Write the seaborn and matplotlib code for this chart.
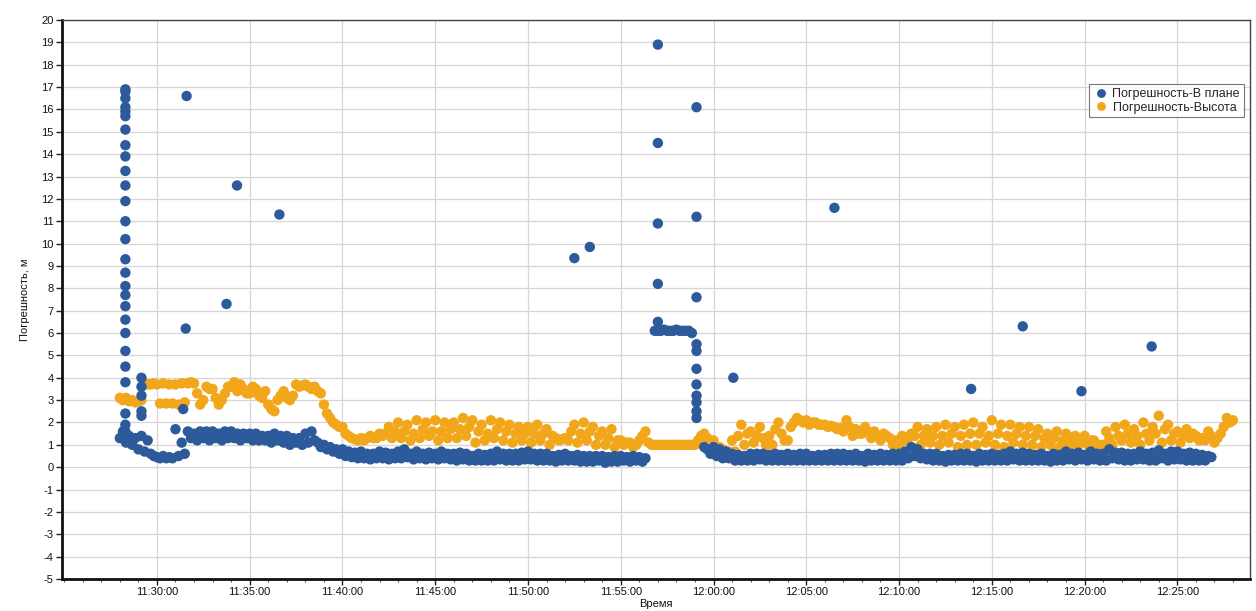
import numpy as np
import pandas as pd
import matplotlib
matplotlib.use("Agg")
import matplotlib.pyplot as plt
import matplotlib.dates as mdates
import seaborn as sns

sns.set_theme(style="white")
plt.rcParams['font.family'] = ['Liberation Sans', 'DejaVu Sans']
plt.rcParams['axes.unicode_minus'] = False

DAY = "2020-01-01 "
SERIES_PLAN = "Погрешность-В плане"
SERIES_H = "Погрешность-Высота"

# ---- Horizontal error band (10 s sampling), three pieces ----
blue_a_start = "11:28:00"
blue_a = [
    1.3, 1.6, 1.1, 1.4, 1.0, 1.3,      # 11:28
    0.8, 1.4, 0.7, 1.2, 0.6, 0.5,      # 11:29
    0.45, 0.4, 0.5, 0.4, 0.45, 0.4,    # 11:30
    1.7, 0.5, 1.1, 0.6, 1.6, 1.3,      # 11:31
    1.5, 1.2, 1.6, 1.3, 1.6, 1.2,      # 11:32
    1.6, 1.3, 1.5, 1.2, 1.6, 1.3,      # 11:33
    1.6, 1.3, 1.5, 1.2, 1.5, 1.3,      # 11:34
    1.5, 1.2, 1.5, 1.2, 1.4, 1.2,      # 11:35
    1.4, 1.1, 1.5, 1.2, 1.4, 1.1,      # 11:36
    1.4, 1.0, 1.3, 1.1, 1.3, 1.0,      # 11:37
    1.5, 1.1, 1.6, 1.2, 1.1, 0.9,      # 11:38
    1.0, 0.8, 0.9, 0.7, 0.8, 0.6,      # 11:39
    0.8, 0.5, 0.7, 0.45, 0.65, 0.4,    # 11:40
    0.7, 0.4, 0.6, 0.35, 0.6, 0.4,     # 11:41
    0.7, 0.4, 0.65, 0.35, 0.6, 0.4,    # 11:42
    0.7, 0.4, 0.8, 0.45, 0.6, 0.35,    # 11:43
    0.7, 0.4, 0.6, 0.35, 0.65, 0.4,    # 11:44
    0.6, 0.35, 0.7, 0.4, 0.6, 0.35,    # 11:45
    0.6, 0.3, 0.65, 0.35, 0.6, 0.3,    # 11:46
    0.5, 0.3, 0.6, 0.3, 0.55, 0.3,     # 11:47
    0.6, 0.3, 0.7, 0.35, 0.6, 0.3,     # 11:48
    0.6, 0.3, 0.6, 0.3, 0.65, 0.35,    # 11:49
    0.7, 0.35, 0.6, 0.3, 0.6, 0.3,     # 11:50
    0.6, 0.3, 0.5, 0.25, 0.55, 0.3,    # 11:51
    0.6, 0.3, 0.5, 0.3, 0.55, 0.25,    # 11:52
    0.5, 0.25, 0.5, 0.25, 0.5, 0.3,    # 11:53
    0.5, 0.2, 0.45, 0.25, 0.5, 0.25,   # 11:54
    0.5, 0.3, 0.45, 0.25, 0.5, 0.3,    # 11:55
    0.45, 0.25, 0.4,                   # 11:56
]
blue_b_start = "11:56:50"
blue_b = [6.1, 6.1, 6.1, 6.15, 6.1, 6.1, 6.1, 6.15, 6.1, 6.1, 6.1, 6.1, 6.0]
blue_c_start = "11:59:30"
blue_c = [
    0.9, 0.8, 0.6,                     # 11:59
    0.9, 0.5, 0.8, 0.4, 0.7, 0.4,      # 12:00
    0.6, 0.3, 0.55, 0.3, 0.5, 0.3,     # 12:01
    0.6, 0.3, 0.6, 0.35, 0.6, 0.3,     # 12:02
    0.55, 0.3, 0.6, 0.3, 0.55, 0.3,    # 12:03
    0.6, 0.3, 0.55, 0.3, 0.6, 0.3,     # 12:04
    0.6, 0.3, 0.5, 0.3, 0.55, 0.3,     # 12:05
    0.55, 0.3, 0.6, 0.3, 0.6, 0.3,     # 12:06
    0.6, 0.3, 0.55, 0.3, 0.6, 0.3,     # 12:07
    0.5, 0.25, 0.6, 0.3, 0.55, 0.3,    # 12:08
    0.6, 0.3, 0.55, 0.3, 0.6, 0.3,     # 12:09
    0.6, 0.3, 0.7, 0.4, 0.9, 0.5,      # 12:10
    0.8, 0.4, 0.6, 0.35, 0.6, 0.3,     # 12:11
    0.6, 0.3, 0.5, 0.25, 0.55, 0.3,    # 12:12
    0.55, 0.3, 0.6, 0.3, 0.6, 0.3,     # 12:13
    0.5, 0.25, 0.6, 0.3, 0.55, 0.3,    # 12:14
    0.6, 0.3, 0.55, 0.3, 0.6, 0.3,     # 12:15
    0.7, 0.35, 0.6, 0.3, 0.65, 0.3,    # 12:16
    0.6, 0.3, 0.55, 0.3, 0.6, 0.3,     # 12:17
    0.5, 0.25, 0.6, 0.3, 0.55, 0.3,    # 12:18
    0.7, 0.35, 0.6, 0.3, 0.65, 0.35,   # 12:19
    0.55, 0.3, 0.7, 0.35, 0.6, 0.3,    # 12:20
    0.6, 0.3, 0.8, 0.4, 0.65, 0.35,    # 12:21
    0.65, 0.3, 0.6, 0.3, 0.6, 0.35,    # 12:22
    0.7, 0.35, 0.6, 0.3, 0.65, 0.3,    # 12:23
    0.75, 0.4, 0.6, 0.3, 0.7, 0.35,    # 12:24
    0.7, 0.35, 0.6, 0.3, 0.65, 0.3,    # 12:25
    0.6, 0.3, 0.55, 0.3, 0.5, 0.45,    # 12:26
]

# ---- Isolated horizontal-error points (time, value) ----
spike_times = (["11:28:18"] * 27 + ["11:29:10"] * 5 +
               ["11:31:25", "11:31:33", "11:31:36", "11:33:45", "11:34:19", "11:36:36",
                "11:52:30", "11:53:20"] +
               ["11:57:00"] * 5 + ["11:59:05"] * 11 +
               ["12:01:04", "12:06:31", "12:13:53", "12:16:40", "12:19:50", "12:23:37"])
spike_vals = ([16.9, 16.8, 16.5, 16.1, 15.9, 15.7, 15.1, 14.4, 13.9, 13.25, 12.6, 11.9,
               11.0, 10.2, 9.3, 8.7, 8.1, 7.7, 7.2, 6.6, 6.0, 5.2, 4.5, 3.8, 2.4, 1.9, 1.6] +
              [4.0, 3.6, 3.2, 2.5, 2.3] +
              [2.6, 6.2, 16.6, 7.3, 12.6, 11.3, 9.35, 9.85] +
              [18.9, 14.5, 10.9, 8.2, 6.5] +
              [16.1, 11.2, 7.6, 5.5, 5.2, 4.4, 3.7, 3.2, 2.9, 2.5, 2.2] +
              [4.0, 11.6, 3.5, 6.3, 3.4, 5.4])

# ---- Height error band (10 s sampling) ----
orange_start = "11:28:00"
orange = [
    3.1, 3.0, 3.1, 2.95, 3.0, 2.9,     # 11:28
    2.95, 3.0, 3.75, 3.7, 3.7, 3.75,   # 11:29
    3.7, 2.85, 3.75, 2.85, 3.7, 2.85,  # 11:30
    3.7, 2.8, 3.75, 2.9, 3.75, 3.8,    # 11:31
    3.75, 3.3, 2.8, 3.0, 3.6, 3.5,     # 11:32
    3.5, 3.1, 2.8, 3.0, 3.3, 3.6,      # 11:33
    3.6, 3.8, 3.4, 3.7, 3.5, 3.3,      # 11:34
    3.3, 3.6, 3.5, 3.2, 3.1, 3.4,      # 11:35
    2.8, 2.6, 2.5, 3.0, 3.2, 3.4,      # 11:36
    3.1, 3.0, 3.2, 3.7, 3.6, 3.65,     # 11:37
    3.7, 3.6, 3.5, 3.6, 3.4, 3.3,      # 11:38
    2.8, 2.4, 2.2, 2.0, 1.9, 1.8,      # 11:39
    1.8, 1.5, 1.4, 1.3, 1.25, 1.2,     # 11:40
    1.3, 1.2, 1.3, 1.4, 1.3, 1.3,      # 11:41
    1.5, 1.4, 1.5, 1.8, 1.3, 1.6,      # 11:42
    2.0, 1.3, 1.6, 1.9, 1.2, 1.5,      # 11:43
    2.1, 1.3, 1.7, 2.0, 1.4, 1.6,      # 11:44
    2.1, 1.2, 1.6, 2.0, 1.3, 1.7,      # 11:45
    2.0, 1.3, 1.7, 2.2, 1.4, 1.8,      # 11:46
    2.1, 1.1, 1.6, 1.9, 1.2, 1.5,      # 11:47
    2.1, 1.3, 1.7, 2.0, 1.2, 1.6,      # 11:48
    1.9, 1.1, 1.5, 1.8, 1.2, 1.5,      # 11:49
    1.8, 1.1, 1.5, 1.9, 1.2, 1.5,      # 11:50
    1.7, 1.0, 1.4, 1.3, 1.2, 1.25,     # 11:51
    1.3, 1.2, 1.6, 1.9, 1.1, 1.5,      # 11:52
    2.0, 1.2, 1.6, 1.8, 1.0, 1.4,      # 11:53
    1.6, 1.0, 1.3, 1.7, 0.9, 1.2,      # 11:54
    1.2, 1.0, 1.1, 1.1, 0.9, 1.0,      # 11:55
    1.2, 1.4, 1.6, 1.1, 1.0, 1.0,      # 11:56
    1.0, 1.0, 1.0, 1.0, 1.0, 1.0,      # 11:57
    1.0, 1.0, 1.0, 1.0, 1.0, 1.0,      # 11:58
    1.0, 1.2, 1.4, 1.5, 1.3, 0.8,      # 11:59
    1.2, 0.6, 0.9, 0.8, 0.5, 0.7,      # 12:00
    1.2, 0.7, 1.4, 1.9, 1.0, 1.5,      # 12:01
    1.6, 1.1, 1.4, 1.8, 1.3, 1.0,      # 12:02
    1.4, 1.0, 1.7, 2.0, 1.5, 1.2,      # 12:03
    1.2, 1.8, 2.0, 2.2, 2.1, 2.0,      # 12:04
    2.1, 1.9, 2.0, 2.0, 1.9, 1.9,      # 12:05
    1.9, 1.8, 1.85, 1.8, 1.7, 1.75,    # 12:06
    1.6, 2.1, 1.8, 1.4, 1.7, 1.5,      # 12:07
    1.5, 1.8, 1.6, 1.3, 1.6, 1.4,      # 12:08
    1.2, 1.5, 1.4, 1.3, 1.0, 1.2,      # 12:09
    1.0, 1.4, 1.2, 1.3, 1.5, 1.4,      # 12:10
    1.8, 1.0, 1.4, 1.7, 1.1, 1.4,      # 12:11
    1.8, 1.0, 1.4, 1.9, 1.1, 1.5,      # 12:12
    1.8, 0.9, 1.4, 1.9, 1.0, 1.5,      # 12:13
    2.0, 1.0, 1.5, 1.8, 1.1, 1.4,      # 12:14
    2.1, 1.0, 1.5, 1.9, 0.9, 1.4,      # 12:15
    1.9, 1.1, 1.5, 1.8, 1.0, 1.4,      # 12:16
    1.8, 1.0, 1.4, 1.7, 0.9, 1.3,      # 12:17
    1.5, 1.0, 1.3, 1.6, 0.9, 1.2,      # 12:18
    1.5, 0.9, 1.2, 1.4, 1.0, 1.2,      # 12:19
    1.4, 1.0, 1.2, 1.2, 0.9, 1.0,      # 12:20
    1.0, 1.6, 1.3, 1.0, 1.8, 1.4,      # 12:21
    1.2, 1.9, 1.5, 1.1, 1.7, 1.4,      # 12:22
    1.0, 2.0, 1.5, 1.2, 1.8, 1.5,      # 12:23
    2.3, 1.1, 1.7, 1.9, 1.2, 1.5,      # 12:24
    1.6, 1.1, 1.4, 1.7, 1.3, 1.5,      # 12:25
    1.4, 1.2, 1.3, 1.2, 1.6, 1.4,      # 12:26
    1.1, 1.3, 1.5, 1.8, 2.2, 2.0,      # 12:27
    2.1,                               # 12:28
]

y_ticks = list(range(-5, 21))
x_tick_labels = ["11:30:00", "11:35:00", "11:40:00", "11:45:00", "11:50:00", "11:55:00",
                 "12:00:00", "12:05:00", "12:10:00", "12:15:00", "12:20:00", "12:25:00"]


def sampled(start, vals, name):
    t = pd.date_range(DAY + start, periods=len(vals), freq="10s")
    return pd.DataFrame({"t": t, "v": vals, "s": name})


frames = [
    sampled(orange_start, orange, SERIES_H),
    sampled(blue_a_start, blue_a, SERIES_PLAN),
    sampled(blue_b_start, blue_b, SERIES_PLAN),
    sampled(blue_c_start, blue_c, SERIES_PLAN),
    pd.DataFrame({"t": pd.to_datetime([DAY + s for s in spike_times]),
                  "v": spike_vals, "s": SERIES_PLAN}),
]
df = pd.concat(frames, ignore_index=True)

BLUE = "#2d5a9b"
ORANGE = "#f2a71b"

W, H = 1256, 611
fig = plt.figure(figsize=(W / 100, H / 100), dpi=100)
L, R, T, B = 62, 1250, 20, 579
ax = fig.add_axes([L / W, (H - B) / H, (R - L) / W, (B - T) / H])

sns.scatterplot(data=df, x="t", y="v", hue="s", hue_order=[SERIES_PLAN, SERIES_H],
                palette=[BLUE, ORANGE], s=56, linewidth=0, ax=ax, legend=True,
                zorder=3)

ax.set_ylim(-5, 20)
ax.set_yticks(y_ticks)
ax.set_xlim(pd.Timestamp(DAY + "11:24:53"), pd.Timestamp(DAY + "12:28:55"))
ax.set_xticks(pd.to_datetime([DAY + s for s in x_tick_labels]))
ax.xaxis.set_major_formatter(mdates.DateFormatter("%H:%M:%S"))
ax.xaxis.set_minor_locator(mdates.MinuteLocator(interval=1))

ax.grid(True, which="major", axis="both", color="#d6d6d6", linewidth=0.9, zorder=0)
ax.set_axisbelow(True)

ax.tick_params(axis="both", which="major", labelsize=8, length=4, width=1,
               direction="out", color="#222222", pad=2, labelcolor="#111111")
ax.tick_params(axis="x", which="minor", length=2, width=0.8, color="#555555")
ax.tick_params(bottom=True, left=True, which="both")
for sp in ["left", "bottom"]:
    ax.spines[sp].set_linewidth(2.0)
    ax.spines[sp].set_color("#111111")
for sp in ["top", "right"]:
    ax.spines[sp].set_linewidth(1.0)
    ax.spines[sp].set_color("#444444")

ax.set_xlabel("Время", fontsize=8, labelpad=1, color="#111111")
ax.set_ylabel("Погрешность, м", fontsize=8, labelpad=8, color="#111111")

handles, labels = ax.get_legend_handles_labels()
leg = ax.legend(handles, labels, loc="upper right",
                bbox_to_anchor=(1.0, (B - 78) / (B - T)), fontsize=9,
                frameon=True, fancybox=False, edgecolor="#555555",
                handletextpad=0.35, labelspacing=0.12, borderpad=0.3,
                handlelength=1.2, markerscale=0.85)
leg.get_frame().set_linewidth(0.8)

fig.savefig("out.png", dpi=100)
